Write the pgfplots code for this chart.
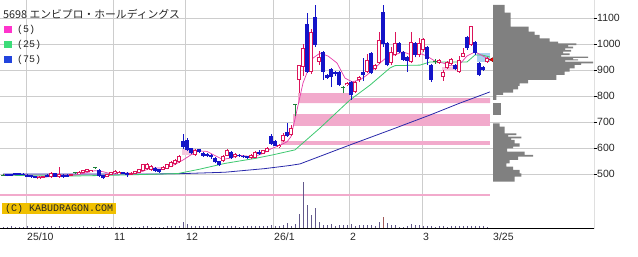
\documentclass[border=0pt]{standalone}
\usepackage{fontspec}
\setmainfont{Liberation Sans}
\newfontfamily\jpfont{Noto Sans CJK JP}
\newfontfamily\monofont{Liberation Mono}
\usepackage{pgfplots}
\pgfplotsset{compat=1.18}
\usepackage{pgfplotstable}

\definecolor{upc}{RGB}{220,20,90}
\definecolor{dnc}{RGB}{20,20,200}
\definecolor{djc}{RGB}{30,130,60}
\definecolor{maF}{RGB}{230,60,170}
\definecolor{maM}{RGB}{60,200,110}
\definecolor{maS}{RGB}{40,40,170}
\definecolor{band}{RGB}{242,170,204}
\definecolor{lpink}{RGB}{245,200,222}
\definecolor{lblue}{RGB}{170,210,240}
\definecolor{gridc}{RGB}{205,205,205}
\definecolor{prof}{RGB}{128,128,128}
\definecolor{volc}{RGB}{100,90,140}
\definecolor{gold}{RGB}{240,192,0}
\definecolor{lgF}{RGB}{255,51,204}
\definecolor{lgM}{RGB}{60,220,120}
\definecolor{lgS}{RGB}{34,68,221}

\pgfplotstableread{
i o h l c
9 483 492 481 491
10 486 494 485 493
12 488 508 487 506
14 491 527 486 503
17 494 502 493 501
19 501 511 500 510
20 506 518 505 517
21 509 520 508 519
22 508 518 507 517
26 491 502 490 501
27 499 510 498 509
28 504 515 503 514
29 501 511 500 510
32 499 507 498 506
33 501 512 500 511
34 506 520 505 519
35 512 541 511 540
36 519 543 517 540
37 517 536 514 533
40 517 532 515 529
41 521 541 519 539
42 529 552 527 549
43 538 558 535 555
44 546 575 544 572
48 575 597 572 594
55 551 575 548 572
56 572 597 570 593
58 565 581 562 578
62 562 578 560 575
63 564 590 562 587
65 580 595 578 592
66 587 606 585 602
69 605 617 603 613
70 630 658 626 652
72 651 690 648 678
74 863 922 812 920
75 913 1000 880 985
77 894 1060 885 1048
79 932 975 920 952
86 842 856 838 852
88 817 860 812 856
89 863 878 855 875
91 894 963 890 940
93 905 925 900 920
94 928 1048 925 1016
97 928 990 920 971
98 959 1048 955 1004
102 932 1048 928 1010
104 959 1025 950 1004
105 978 1025 970 1020
109 928 945 925 940
110 875 900 860 894
111 909 935 905 932
112 925 948 920 945
114 894 955 890 940
115 953 985 950 966
117 997 1072 995 1070
121 932 950 928 947
}\upT

\pgfplotstableread{
i o h l c
1 500 502 492 494
2 500 501 493 494
3 504 505 496 497
4 504 506 496 497
5 503 505 496 497
6 499 500 489 491
7 496 497 487 488
8 493 494 484 486
11 499 500 490 491
13 504 506 490 491
15 499 500 487 488
16 499 500 490 491
24 517 519 490 493
25 497 499 483 485
30 509 510 500 501
31 506 507 491 497
38 523 527 510 513
39 520 522 505 508
45 628 654 598 605
46 632 640 590 593
47 600 603 578 581
49 596 598 582 585
50 581 585 567 570
51 580 583 566 570
52 575 578 560 565
53 564 567 543 546
54 551 553 532 535
57 587 590 558 561
59 576 579 567 570
60 572 574 563 566
61 570 572 560 562
64 585 595 575 578
67 646 656 614 617
68 628 631 607 610
71 662 697 645 649
76 1078 1122 890 894
78 1105 1151 990 997
80 971 975 863 894
81 882 886 866 870
82 905 910 835 876
83 894 898 880 885
84 894 898 840 844
87 856 860 786 805
90 894 947 860 882
92 967 970 886 890
95 1125 1151 990 1000
96 1004 1008 915 920
99 1004 1008 966 971
100 971 975 935 940
101 950 955 894 935
103 1004 1008 950 959
106 990 995 920 942
107 920 925 855 863
113 920 925 900 905
116 1028 1032 980 985
118 1010 1012 960 966
119 928 932 878 882
120 913 916 898 901
}\dnT

\pgfplotstableread{
i o h l c
0 497 500 494 497
18 506 509 501 506
23 525 529 522 525
73 768 770 726 768
85 835 838 812 835
108 935 945 925 935
}\djT

\pgfplotstableread{
i v
0 1
1 1
2 1.5
3 1
4 1
5 1
6 1.5
7 1
8 1
9 1
10 1.5
11 1
12 1.5
13 1
14 2
15 1
16 1
17 1
18 1
19 1
20 1.5
21 1
22 1
23 1
24 2
25 1.5
26 1
27 1
28 1
29 1
30 1
31 1
32 1
33 1
34 1
35 1.5
36 1.5
37 1
38 1
39 1
40 1
41 1.5
42 1.5
43 2
44 2
45 6
46 3.5
47 2
48 2
49 1.5
50 1.5
51 2
52 1.5
53 2
54 2
55 1.5
56 2
57 1.5
58 1.5
59 1
60 1.5
61 1.5
62 1.5
63 2
64 2
65 1.5
66 2
67 3
68 1.7
69 1.5
70 2.7
71 5
72 2
73 4.3
74 13.7
75 46
76 22.7
77 12.7
78 20
79 6
80 3.3
81 2.7
82 3.7
83 2
84 2.5
85 2.5
86 3
87 3.5
88 2
89 2.7
90 2.7
91 2.7
92 2.7
93 2
94 6
96 5
97 2.7
98 2.7
99 1
100 1
101 2
102 4.3
103 2.7
104 2.7
105 1.5
106 1.5
107 1.5
108 1
109 1.5
110 1.5
111 1
112 1.5
113 1.5
114 1.5
115 1.5
116 1.5
117 1.5
118 1.5
119 1.5
120 1.5
121 1
}\volT

\pgfplotsset{
  wick/.style={draw=none, mark=none, forget plot, error bars/.cd, y dir=plus, y explicit, error mark=none, error bar style={draw=#1, line width=1pt}},
  body/.style 2 args={draw=none, mark=none, forget plot, error bars/.cd, y dir=plus, y explicit, error mark=none, error bar style={draw=#1, line width=#2}},
  chartbox/.style={at={(0pt,257pt)}, anchor=north west, scale only axis, width=594pt, height=228pt},
}

\begin{document}
\begin{tikzpicture}[x=1pt,y=1pt]
\useasboundingbox (0pt,0pt) rectangle (638pt,257pt);
% ---------------- main price axis
\begin{axis}[
  chartbox,
  xmin=-0.75, xmax=147.75, ymin=293.5, ymax=1170.4,
  axis line style={draw=none},
  xtick pos=bottom, ytick pos=right, yticklabel pos=right,
  xtick={5.75,27.5,45.5,67.5,86.5,104.75},
  xticklabels={25/10,11,12,26/1,2,3},
  extra x ticks={122.25}, extra x tick labels={3/25},
  extra x tick style={grid=none},
  xmajorgrids, ymajorgrids,
  major grid style={gridc, line width=0.9pt},
  ytick={500,600,...,1100},
  x tick style={draw=none},
  y tick style={black, line width=0.8pt},
  tick align=outside, major tick length=3pt,
  xticklabel style={anchor=north west, inner sep=0pt, xshift=1pt, yshift=-2pt, font=\fontsize{10.5}{12}\selectfont, text=black!85},
  yticklabel style={anchor=west, inner sep=0pt, xshift=0pt, font=\fontsize{10.5}{12}\selectfont, text=black!85},
  /pgf/number format/1000 sep={},
  /pgf/number format/assume math mode=true,
]
% pink bands
\addplot[fill=band, draw=none] coordinates {(73.75,812) (86.75,812) (86.75,793) (121.75,793) (121.75,774) (73.75,774)};
\addplot[fill=band, draw=none] coordinates {(72.5,732) (121.75,732) (121.75,686) (72.5,686)};
\addplot[fill=band, draw=none] coordinates {(69.5,628) (121.75,628) (121.75,612) (69.5,612)};
\addplot[fill=band, draw=none] coordinates {(-0.75,425) (121.75,425) (121.75,416) (-0.75,416)};
% highlight boxes
\addplot[fill=lpink, draw=none] coordinates {(44.75,598) (48,598) (48,575) (44.75,575)};
\addplot[fill=lpink, draw=none] coordinates {(109.75,913) (113,913) (113,897) (109.75,897)};
\addplot[fill=lblue, draw=none] coordinates {(118.5,966) (121.75,966) (121.75,932) (118.5,932)};
% moving averages
\addplot[maS, line width=0.8pt] coordinates {(0,501) (36.75,501) (45.5,503) (55.5,508) (65.5,522) (71.75,534) (74.25,540) (86.75,613) (96.75,670) (106.75,728) (114.25,774) (121.75,817)};
\addplot[maM, line width=0.8pt] coordinates {(0,497) (9.25,494) (19.25,494) (26.75,496) (34.25,499) (43.75,503) (49.25,520) (55.5,542) (63,561) (67.5,575) (73,594) (79.25,678) (86.75,786) (91.75,843) (96.75,909) (98,918) (104.25,920) (106.75,932) (116,932) (118,959) (119.75,959) (121.75,951)};
\addplot[maF, line width=0.7pt] coordinates {(0,498) (5,499) (8,492) (10.5,489) (13,494) (15.5,497) (18,497) (20.5,505) (23,514) (25,510) (27,502) (29,503) (31,505) (33,503) (35,512) (37,525) (39,524) (41,525) (43,538) (45,555) (47,575) (49,590) (51,588) (53,572) (55,557) (57,563) (59,573) (61,570) (63,570) (65,580) (67,598) (69,610) (71,625) (72,645) (73.5,747) (75,851) (76.25,901) (77.5,947) (79.25,966) (81.25,955) (83.5,928) (85.5,870) (87.25,856) (89.25,863) (91,882) (92.75,905) (94.25,928) (96,951) (98,960) (100,971) (102,960) (104,966) (106,955) (108,935) (110,928) (112,917) (114,920) (116,955) (118,971) (120,955) (121.75,940)};
% candles: wicks
\addplot[wick=upc] table[x=i, y=l, y error plus expr=\thisrow{h}-\thisrow{l}] {\upT};
\addplot[wick=dnc] table[x=i, y=l, y error plus expr=\thisrow{h}-\thisrow{l}] {\dnT};
\addplot[wick=djc] table[x=i, y=l, y error plus expr=\thisrow{h}-\thisrow{l}] {\djT};
% bodies
\addplot[body={upc}{3.6pt}] table[x=i, y=o, y error plus expr=\thisrow{c}-\thisrow{o}] {\upT};
\addplot[body={white}{1.6pt}] table[x=i, y expr=\thisrow{o}+3.85, y error plus expr={max(\thisrow{c}-\thisrow{o}-7.7,0)}] {\upT};
\addplot[body={dnc}{3.3pt}] table[x=i, y=c, y error plus expr=\thisrow{o}-\thisrow{c}] {\dnT};
\addplot[only marks, mark=-, mark size=1.8pt, color=djc, mark options={line width=1pt}] table[x=i, y=o] {\djT};
% current price marker
\addplot[only marks, mark=triangle*, mark size=3.5pt, mark options={rotate=90, fill=red, draw=red!50!black, line width=0.5pt}] coordinates {(122.5,941)};
% axis lines
\draw[black, line width=0.9pt] (rel axis cs:0,0) -- (rel axis cs:1,0) -- (rel axis cs:1,1);
\end{axis}
% ---------------- volume
\begin{axis}[chartbox,
  xmin=-0.75, xmax=147.75, ymin=0, ymax=228, hide axis]
\addplot[ycomb, volc, line width=1pt, mark=none] table[x=i, y=v] {\volT};
\addplot[ycomb, color={rgb,255:red,160;green,90;blue,90}, line width=1pt, mark=none] coordinates {(95,11)};
\end{axis}
% ---------------- volume profile
\begin{axis}[chartbox,
  xmin=-493, xmax=101, ymin=293.5, ymax=1170.4, hide axis]
\addplot[fill=prof, draw=none] coordinates {
(0,1151.3) (11.7,1151.3) (11.7,1121.8) (17.7,1121.8) (17.7,1067.9) (35.7,1067.9)
(35.7,1048.7) (41.7,1048.7) (41.7,1035.9) (46.7,1035.9) (46.7,1023.1) (56.7,1023.1)
(56.7,1010.3) (65,1010.3) (65,1003.8) (83.3,1003.8) (83.3,997) (75,997) (75,991) (80,991)
(80,984) (72,984) (72,978.2) (78,978.2) (78,972) (70,972) (70,965.4) (76.7,965.4)
(76.7,958) (68,958) (68,952.6) (95,952.6) (95,948) (80,948) (80,942.3) (85,942.3)
(85,938) (72,938) (72,933.3) (100,933.3) (100,927) (88,927) (88,920.5) (81.7,920.5)
(81.7,907.7) (76.7,907.7) (76.7,894.9) (71.7,894.9) (71.7,882.1) (63.3,882.1)
(63.3,862.8) (35,862.8) (35,850) (26.7,850) (26.7,839.7) (25,839.7) (25,826.9)
(20,826.9) (20,814.1) (10,814.1) (10,805.1) (3.3,805.1) (3.3,785.9) (0,785.9)};
\addplot[fill=prof, draw=none] coordinates {(0,773.1) (7.7,773.1) (7.7,728.2) (0,728.2)};
\addplot[fill=prof, draw=none] coordinates {
(0,696.2) (6.7,696.2) (6.7,683.3) (11.7,683.3) (11.7,657.7) (23.3,657.7) (23.3,651) (15,651)
(15,644.9) (28.3,644.9) (28.3,638) (18,638) (18,632.1) (21.7,632.1) (21.7,619.2) (26.7,619.2)
(26.7,606.4) (20,606.4) (20,600) (14,600) (14,587.2) (31.7,587.2) (31.7,574.4) (40,574.4)
(40,567.9) (25,567.9) (25,555.1) (16.7,555.1) (16.7,542.3) (13.3,542.3) (13.3,529.5)
(20,529.5) (20,516.7) (26.7,516.7) (26.7,503.8) (28.3,503.8) (28.3,491) (21.7,491)
(21.7,471.8) (0,471.8)};
\end{axis}
% ---------------- title, legend, copyright
\node[anchor=west, inner sep=0pt, text=black!85] at (3pt,243pt) {\jpfont\fontsize{10.8}{13}\selectfont 5698 エンビプロ・ホールディングス};
\fill[lgF] (4pt,224pt) rectangle (12pt,231pt);
\fill[lgM] (4pt,209pt) rectangle (12pt,216pt);
\fill[lgS] (4pt,194pt) rectangle (12pt,201pt);
\node[anchor=west, inner sep=0pt, text=black!85] at (17pt,227.5pt) {\monofont\fontsize{10}{12}\selectfont (5)};
\node[anchor=west, inner sep=0pt, text=black!85] at (17pt,212.5pt) {\monofont\fontsize{10}{12}\selectfont (25)};
\node[anchor=west, inner sep=0pt, text=black!85] at (17pt,197.5pt) {\monofont\fontsize{10}{12}\selectfont (75)};
\fill[gold] (1.7pt,43pt) rectangle (116pt,54pt);
\node[anchor=west, inner sep=0pt, text=black!85] at (5pt,48.5pt) {\monofont\fontsize{10}{12}\selectfont (C) KABUDRAGON.COM};
\end{tikzpicture}
\end{document}
